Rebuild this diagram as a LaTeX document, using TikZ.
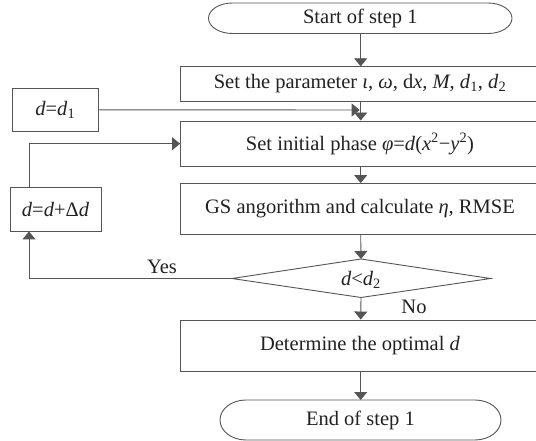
\documentclass[tikz,border=0pt]{standalone}
\usepackage{fontspec}
\setmainfont{Liberation Serif}
\usetikzlibrary{arrows.meta}
\definecolor{linec}{HTML}{555555}
\definecolor{textc}{HTML}{222222}
\newcommand{\vi}[1]{\textit{#1}}
\begin{document}
\begin{tikzpicture}[x=1pt,y=-1pt,
  every node/.style={text=textc,font=\fontsize{20.5}{23}\selectfont},
  procbox/.style={draw=linec,line width=0.9pt,rectangle,inner sep=0pt,minimum width=359pt},
  sidebox/.style={draw=linec,line width=0.9pt,rectangle,inner sep=0pt},
  termbox/.style={rectangle,inner sep=0pt},
  lbl/.style={inner sep=0pt},
  arr/.style={draw=linec,line width=0.9pt,-{Triangle[width=13pt,length=8pt]}},
  conn/.style={draw=linec,line width=0.9pt}]
\clip (0,0) rectangle (536,441);
\fill[white] (0,0) rectangle (536,441);
% terminals
\node[termbox,minimum width=303.5pt,minimum height=30.5pt] (start) at (360.3,18.3) {Start of step 1};
\draw[conn] (232.5,3) -- (488,3) arc[start angle=-90,end angle=90,x radius=24,y radius=15.25]
  -- (232.5,33.5) arc[start angle=90,end angle=270,x radius=24,y radius=15.25] -- cycle;
\node[termbox,minimum width=281pt,minimum height=40pt] (end) at (360.4,420.2) {End of step 1};
\draw[conn] (246,400) -- (475,400) arc[start angle=-90,end angle=90,x radius=26,y radius=20]
  -- (246,440) arc[start angle=90,end angle=270,x radius=26,y radius=20] -- cycle;
% process boxes
\node[procbox,minimum height=34.3pt] (b1) at (360,83.9) {Set the parameter \vi{ι}, \vi{ω}, d\vi{x}, \vi{M}, \vi{d}\textsubscript{1}, \vi{d}\textsubscript{2}};
\node[procbox,minimum height=45.4pt] (b2) at (360,143.7) {Set initial phase \vi{φ}=\vi{d}(\vi{x}\textsuperscript{2}−\vi{y}\textsuperscript{2})};
\node[procbox,minimum height=51pt] (b3) at (360,209) {GS angorithm and calculate \vi{η}, RMSE};
% decision
\node[inner sep=0pt] (dia) at (361,280) {\vi{d}<\vi{d}\textsubscript{2}};
\coordinate (dn) at (361,259);
\coordinate (ds) at (361,297.5);
\coordinate (dw) at (232,278.5);
\coordinate (de) at (490.5,278.5);
\draw[conn] (dn) -- (de) -- (ds) -- (dw) -- cycle;
\node[procbox,minimum height=51.4pt] (b4) at (360,345.7) {Determine the optimal \vi{d}};
% side boxes
\node[sidebox,minimum width=85.4pt,minimum height=43.6pt] (d1) at (55.3,109.8) {\vi{d}=\vi{d}\textsubscript{1}};
\node[sidebox,minimum width=91pt,minimum height=44pt] (dd) at (55.5,209) {\vi{d}=\vi{d}+Δ\vi{d}};
% labels
\node[lbl] (yes) at (162,267) {Yes};
\node[lbl] (no) at (414,307) {No};
% coordinates
\coordinate (lx) at (29,0);
\coordinate (jx) at (360.7,110);
% connectors
\draw[arr] (start.south -| jx) -- (b1.north -| jx);
\draw[conn] (b1.south -| jx) -- (jx);
\draw[arr] (jx) -- (b2.north -| jx);
\draw[arr] (d1.east) -- ([xshift=-1pt]jx);
\draw[arr] (b2.south -| jx) -- (b3.north -| jx);
\draw[arr] (b3.south -| jx) -- (dn);
\draw[arr] (ds) -- (b4.north -| jx);
\draw[arr] (b4.south -| jx) -- (end.north -| jx);
\draw[arr] (dw) -- (dw -| lx) -- (lx |- dd.south);
\draw[arr] (lx |- dd.north) |- (b2.west);
\end{tikzpicture}
\end{document}
